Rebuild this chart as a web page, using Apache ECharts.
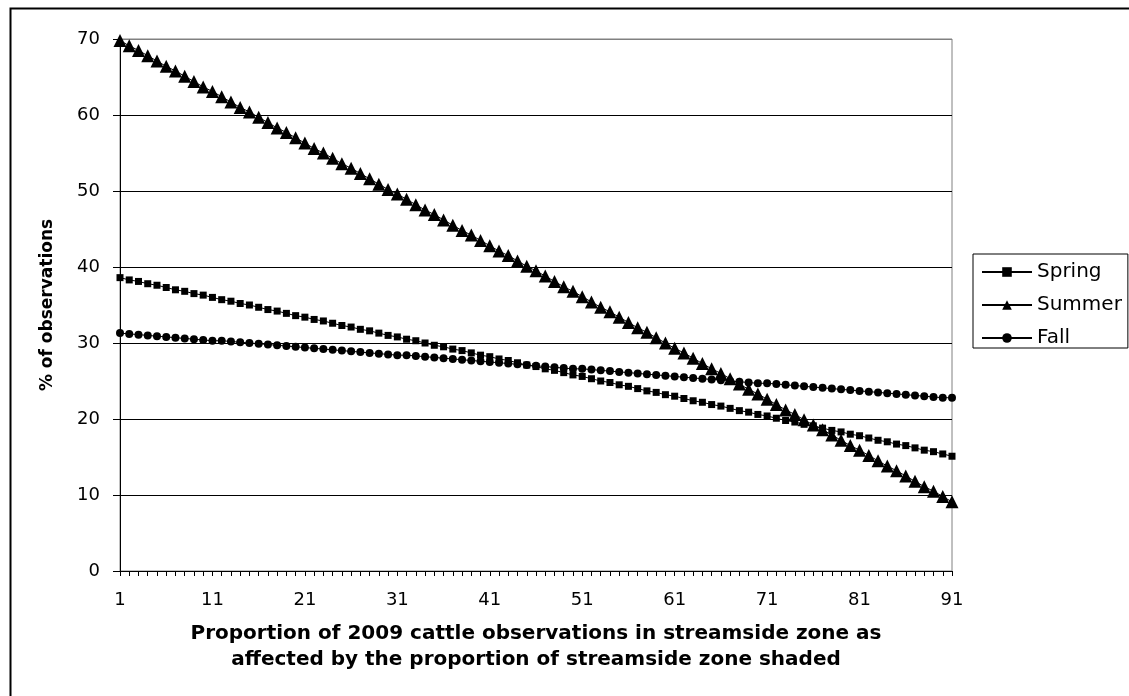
<!DOCTYPE html>
<html>
<head>
<meta charset="utf-8">
<script src="https://cdn.jsdelivr.net/npm/echarts@6/dist/echarts.min.js"></script>
<style>html,body{margin:0;padding:0;background:#fff}#c{width:1129px;height:696px}</style>
</head>
<body>
<div id="c"></div>
<script>
var categories = [];
for (var k = 1; k <= 91; k++) categories.push(String(k));

var yTicks = [0, 10, 20, 30, 40, 50, 60, 70];

var spring = [38.6,38.3,38.1,37.8,37.6,37.3,37.0,36.8,36.5,36.3,36.0,35.7,35.5,35.2,35.0,34.7,34.4,34.2,33.9,33.6,33.4,33.1,32.9,32.6,32.3,32.1,31.8,31.6,31.3,31.0,30.8,30.5,30.3,30.0,29.7,29.5,29.2,29.0,28.7,28.4,28.2,27.9,27.7,27.4,27.1,26.9,26.6,26.4,26.1,25.8,25.6,25.3,25.0,24.8,24.5,24.3,24.0,23.7,23.5,23.2,23.0,22.7,22.4,22.2,21.9,21.7,21.4,21.1,20.9,20.6,20.4,20.1,19.8,19.6,19.3,19.1,18.8,18.5,18.3,18.0,17.8,17.5,17.2,17.0,16.7,16.5,16.2,15.9,15.7,15.4,15.1];

var summer = [69.8,69.1,68.5,67.8,67.1,66.4,65.8,65.1,64.4,63.7,63.1,62.4,61.7,61.0,60.4,59.7,59.0,58.3,57.7,57.0,56.3,55.6,55.0,54.3,53.6,53.0,52.3,51.6,50.9,50.2,49.6,48.9,48.2,47.5,46.9,46.2,45.5,44.8,44.2,43.5,42.8,42.1,41.5,40.8,40.1,39.5,38.8,38.1,37.4,36.8,36.1,35.4,34.7,34.1,33.4,32.7,32.0,31.4,30.7,30.0,29.3,28.7,28.0,27.3,26.6,26.0,25.3,24.6,23.9,23.3,22.6,21.9,21.2,20.6,19.9,19.2,18.6,17.9,17.2,16.5,15.9,15.2,14.5,13.8,13.2,12.5,11.8,11.1,10.5,9.8,9.1];

var fall = [31.3,31.2,31.1,31.0,30.9,30.8,30.7,30.6,30.5,30.4,30.3,30.3,30.2,30.1,30.0,29.9,29.8,29.7,29.6,29.5,29.4,29.3,29.2,29.1,29.0,28.9,28.8,28.7,28.6,28.5,28.4,28.4,28.3,28.2,28.1,28.0,27.9,27.8,27.7,27.6,27.5,27.4,27.3,27.2,27.1,27.0,26.9,26.8,26.7,26.6,26.6,26.5,26.4,26.3,26.2,26.1,26.0,25.9,25.8,25.7,25.6,25.5,25.4,25.3,25.2,25.1,25.0,24.9,24.8,24.7,24.7,24.6,24.5,24.4,24.3,24.2,24.1,24.0,23.9,23.8,23.7,23.6,23.5,23.4,23.3,23.2,23.1,23.0,22.9,22.8,22.8];

var seriesNames = ['Spring', 'Summer', 'Fall'];
var xTitle = 'Proportion of 2009 cattle observations in streamside zone as\naffected by the proportion of streamside zone shaded';
var yTitle = '% of observations';

var chart = echarts.init(document.getElementById('c'), null, {renderer: 'canvas'});

function mkSeries(name, data, symbol, size) {
  return {
    name: name, type: 'line', data: data,
    symbol: symbol, symbolSize: size, showSymbol: true, showAllSymbol: true,
    lineStyle: {color: '#000', width: 1},
    itemStyle: {color: '#000', borderWidth: 0},
    emphasis: {disabled: true},
    animation: false
  };
}

var splitColors = yTicks.map(function (v, i) { return i === yTicks.length - 1 ? '#808080' : '#000'; });

chart.setOption({
  backgroundColor: '#fff',
  animation: false,
  graphic: [{
    type: 'rect', left: 8, top: 6, silent: true, z: -10,
    shape: {x: 0, y: 0, width: 1140, height: 720},
    style: {fill: 'none', stroke: '#000', lineWidth: 2}
  }],
  grid: {
    left: 120, right: 177, top: 39, bottom: 125,
    show: true, borderColor: '#808080', borderWidth: 1, backgroundColor: 'transparent'
  },
  legend: {
    orient: 'vertical',
    left: 973, top: 254,
    padding: [8, 6, 0, 8],
    itemWidth: 50, itemHeight: 12, itemGap: 13,
    borderColor: '#000', borderWidth: 1,
    backgroundColor: '#fff',
    textStyle: {fontFamily: 'DejaVu Sans', fontSize: 20, color: '#000', lineHeight: 20},
    data: seriesNames,
    selectedMode: false
  },
  xAxis: {
    type: 'category',
    data: categories,
    boundaryGap: false,
    axisLine: {lineStyle: {color: '#000', width: 1}},
    axisTick: {show: true, interval: 0, length: 5, inside: false, lineStyle: {color: '#000'}},
    axisLabel: {
      interval: 9, margin: 20, color: '#000',
      fontFamily: 'DejaVu Sans', fontSize: 18
    },
    splitLine: {show: false},
    name: xTitle,
    nameLocation: 'middle',
    nameGap: 50,
    nameTextStyle: {fontFamily: 'DejaVu Sans', fontWeight: 'bold', fontSize: 20, color: '#000', lineHeight: 26, align: 'center'}
  },
  yAxis: {
    type: 'value',
    min: 0, max: 70, interval: 10,
    axisLine: {show: true, lineStyle: {color: '#000', width: 1}},
    axisTick: {show: true, length: 7, lineStyle: {color: '#000'}},
    axisLabel: {margin: 20, color: '#000', fontFamily: 'DejaVu Sans', fontSize: 18},
    splitLine: {show: true, lineStyle: {color: splitColors, width: 1}},
    name: yTitle,
    nameLocation: 'middle',
    nameGap: 64,
    nameRotate: 90,
    nameTextStyle: {fontFamily: 'DejaVu Sans', fontWeight: 'bold', fontSize: 17, color: '#000'}
  },
  series: [
    mkSeries(seriesNames[0], spring, 'rect', 7),
    mkSeries(seriesNames[1], summer, 'triangle', 13),
    mkSeries(seriesNames[2], fall, 'circle', 8)
  ]
});
</script>
</body>
</html>
